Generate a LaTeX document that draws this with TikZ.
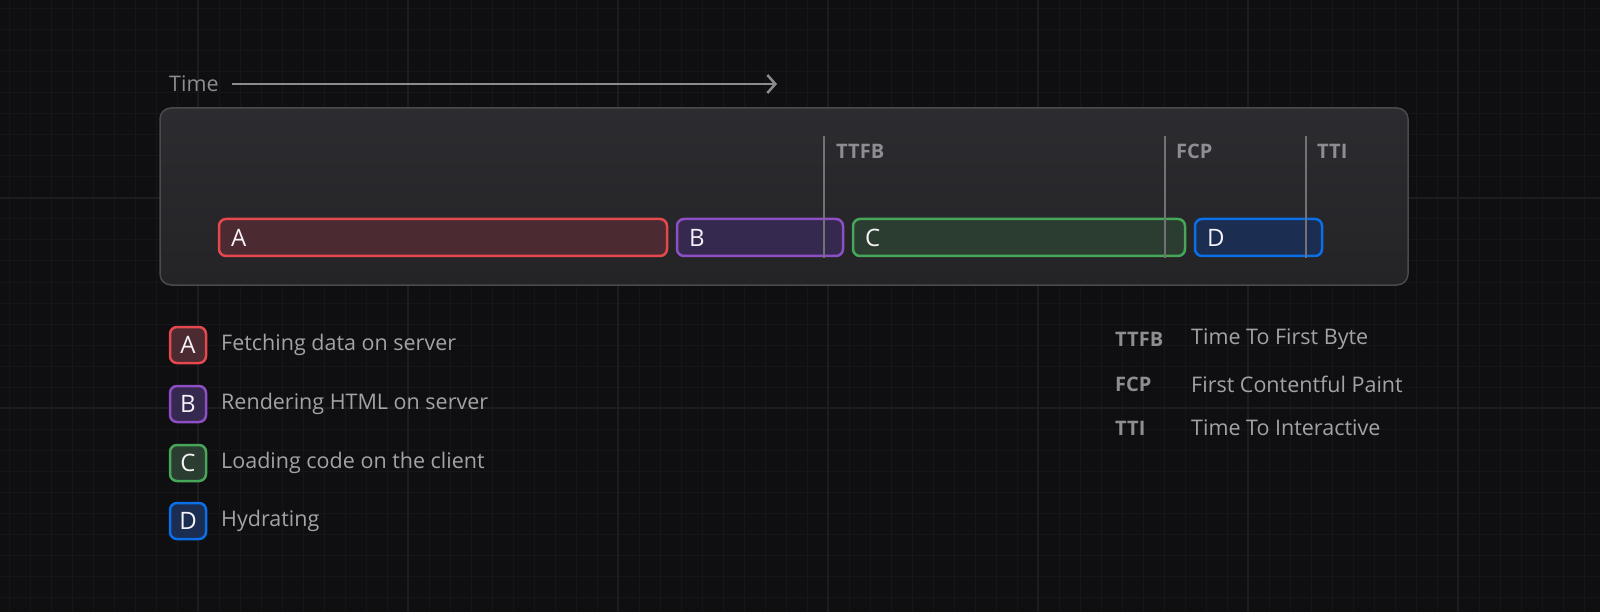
\documentclass[tikz,border=0pt]{standalone}
\usepackage{fontspec}
\setmainfont{Open Sans}
\usetikzlibrary{arrows.meta}
\definecolor{bg}{HTML}{0F0E11}
\definecolor{gridminor}{HTML}{161519}
\definecolor{gridmajor}{HTML}{1D1C20}
\definecolor{boxtop}{HTML}{2C2B2F}
\definecolor{boxbot}{HTML}{242326}
\definecolor{boxline}{HTML}{4A494E}
\definecolor{axis}{HTML}{8C8B90}
\definecolor{marker}{HTML}{727176}
\definecolor{mlabel}{HTML}{8E8D92}
\definecolor{ltext}{HTML}{A3A2A7}
\definecolor{barA}{HTML}{E5484D}\definecolor{fillA}{HTML}{4B2A31}
\definecolor{barB}{HTML}{8E4EC6}\definecolor{fillB}{HTML}{352950}
\definecolor{barC}{HTML}{46A758}\definecolor{fillC}{HTML}{2B3C30}
\definecolor{barD}{HTML}{0B6FE8}\definecolor{fillD}{HTML}{1B2D50}
\definecolor{letter}{HTML}{F5F3F8}
\tikzset{
  bar/.style={draw=#1, line width=2.5pt, rounded corners=7pt},
  barlabel/.style={text=letter, font=\fontsize{24}{26}\selectfont, anchor=west, inner sep=0pt},
  keybox/.style={draw=#1, line width=2.5pt, rounded corners=7pt, minimum width=36pt, minimum height=36pt, inner sep=0pt, text=letter, font=\fontsize{24}{26}\selectfont},
  keytext/.style={text=ltext, font=\fontsize{21.5}{24}\selectfont, anchor=west, inner sep=0pt},
  mline/.style={draw=marker, line width=2.5pt},
  mtext/.style={text=mlabel, font=\fontsize{20}{24}\selectfont\bfseries, anchor=west, inner sep=0pt},
  abbr/.style={text=mlabel, font=\fontsize{20}{24}\selectfont\bfseries, anchor=west, inner sep=0pt},
}
\begin{document}
\begin{tikzpicture}[x=1pt,y=-1pt]
\useasboundingbox (0,0) rectangle (1600,612);
\fill[bg] (0,0) rectangle (1600,612);
% grid
\foreach \i in {0,...,76} {\draw[gridminor, line width=1pt] ({9+21*\i},0) -- ({9+21*\i},612);}
\foreach \j in {0,...,29} {\draw[gridminor, line width=1pt] (0,{9+21*\j}) -- (1600,{9+21*\j});}
\foreach \i in {0,...,6} {\draw[gridmajor, line width=1.2pt] ({198+210*\i},0) -- ({198+210*\i},612);}
\foreach \j in {0,1} {\draw[gridmajor, line width=1.2pt] (0,{198+210*\j}) -- (1600,{198+210*\j});}
% time axis
\node[text=axis, font=\fontsize{21.5}{24}\selectfont, anchor=west, inner sep=0pt] (time) at (169,84) {Time};
\coordinate (tend) at (777,84);
\draw[axis, line width=2.5pt, -{Straight Barb[length=8pt,width=18pt,line width=2.5pt]}] (232,84) -- (tend);
% main box
\shade[top color=boxtop, bottom color=boxbot, rounded corners=11pt] (160,108) rectangle (1408,285);
\draw[boxline, line width=1.5pt, rounded corners=11pt] (160,108) rectangle (1408,285);
% bars
\path[bar=barA, fill=fillA] (219,219) rectangle (667,256);
\path[bar=barB, fill=fillB] (677,219) rectangle (843,256);
\path[bar=barC, fill=fillC] (853,219) rectangle (1185,256);
\path[bar=barD, fill=fillD] (1195,219) rectangle (1322,256);
\node[barlabel] (la) at (231,238) {A};
\node[barlabel] (lb) at (689,238) {B};
\node[barlabel] (lc) at (865,238) {C};
\node[barlabel] (ld) at (1207,238) {D};
% markers
\draw[mline] (824,136) -- (824,258);
\draw[mline] (1165,136) -- (1165,258);
\draw[mline] (1306,136) -- (1306,258);
\node[mtext] (ttfb) at (836,151) {TTFB};
\node[mtext] (fcp) at (1176,151) {FCP};
\node[mtext] (tti) at (1317,151) {TTI};
% legend left
\node[keybox=barA, fill=fillA] (ka) at (188,345) {A};
\node[keybox=barB, fill=fillB] (kb) at (188,404) {B};
\node[keybox=barC, fill=fillC] (kc) at (188,463) {C};
\node[keybox=barD, fill=fillD] (kd) at (188,521) {D};
\node[keytext] (ta) at (221,345) {Fetching data on server};
\node[keytext] (tb) at (221,404) {Rendering HTML on server};
\node[keytext] (tc) at (221,463) {Loading code on the client};
\node[keytext] (td) at (221,521) {Hydrating};
% legend right
\node[abbr] (a1) at (1115,339) {TTFB};
\node[abbr] (a2) at (1115,384) {FCP};
\node[abbr] (a3) at (1115,428) {TTI};
\node[keytext] (d1) at (1191,339) {Time To First Byte};
\node[keytext] (d2) at (1191,384) {First Contentful Paint};
\node[keytext] (d3) at (1191,428) {Time To Interactive};
\end{tikzpicture}
\end{document}
